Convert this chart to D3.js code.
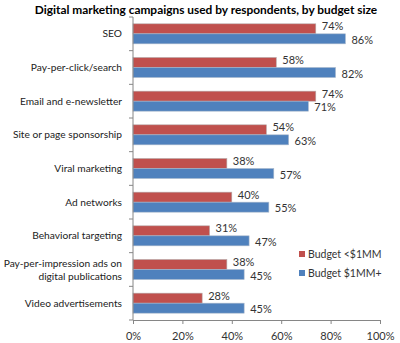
<!DOCTYPE html>
<html><head><meta charset="utf-8">
<script src="https://cdn.jsdelivr.net/npm/d3@7"></script>
<style>body{margin:0;background:#fff}</style>
</head><body><svg id="c" width="400" height="343"></svg>
<script>
const categories = ["SEO","Pay-per-click/search","Email and e-newsletter","Site or page sponsorship","Viral marketing","Ad networks","Behavioral targeting","Pay-per-impression ads on digital publications","Video advertisements"];
const seriesNames = ["Budget <$1MM","Budget $1MM+"];
const small = [74,58,74,54,38,40,31,38,28];
const large = [86,82,71,63,57,55,47,45,45];
const xTicks = [0,20,40,60,80,100];
const colors = ["#C0504D","#4F81BD"];

const svg = d3.select("#c");
const font = "Lato, 'Open Sans', sans-serif";
const m = {left:133, right:20, top:17, bottom:23};
const x = d3.scaleLinear().domain([0,100]).range([m.left, 380]);
const y = d3.scaleBand().domain(categories).range([m.top, 320]);
const inner = d3.scaleBand().domain([0,1]).range([0,20]);
const off = (y.bandwidth()-20)/2;

svg.append("text").attr("x",206).attr("y",14).attr("text-anchor","middle")
  .attr("font-family",font).attr("font-weight","bold").attr("font-size",11.9).attr("fill","#000")
  .text("Digital marketing campaigns used by respondents, by budget size");

const data = categories.map((c,i)=>({c, v:[small[i], large[i]]}));
const g = svg.append("g");
data.forEach(d=>{
  d.v.forEach((v,s)=>{
    const y0 = y(d.c)+off+inner(s);
    g.append("rect").attr("x",x(0)).attr("y",y0).attr("width",x(v)-x(0)).attr("height",inner.bandwidth())
      .attr("fill",colors[s]).attr("stroke", s===0? "#b5a8a8":"#a9b8cc").attr("stroke-width",0.6);
    g.append("text").attr("x",x(v)+6).attr("y",y0+inner.bandwidth()/2+ (s===0?1.5:5))
      .attr("font-family",font).attr("font-size",11).attr("fill","#333").text(v+"%");
  });
});

const ax = svg.append("g").attr("transform",`translate(0,320)`)
  .call(d3.axisBottom(x).tickValues(xTicks).tickFormat(d=>d+"%").tickSizeOuter(0).tickSize(4).tickPadding(8));
ax.select(".domain").attr("stroke","#868686");
ax.selectAll(".tick line").attr("stroke","#868686");
ax.selectAll("text").attr("font-family",font).attr("font-size",11).attr("fill","#333");

svg.append("line").attr("x1",x(0)).attr("x2",x(0)).attr("y1",m.top).attr("y2",320).attr("stroke","#868686");
const bounds = categories.map(c=>y(c)).concat([320]);
svg.selectAll(".yt").data(bounds).enter().append("line")
  .attr("x1",x(0)-4).attr("x2",x(0)).attr("y1",d=>d).attr("y2",d=>d).attr("stroke","#868686");

const wrapMap = {"Pay-per-impression ads on digital publications":["Pay-per-impression ads on","digital publications"]};
categories.forEach(c=>{
  const lines = wrapMap[c] || [c];
  const cy = y(c)+y.bandwidth()/2;
  const t = svg.append("text").attr("text-anchor","end").attr("font-family",font).attr("font-size",10.2).attr("fill","#222");
  lines.forEach((l,i)=>{
    t.append("tspan").attr("x",122).attr("y",cy+3.5+(i-(lines.length-1)/2)*13).text(l);
  });
});

seriesNames.forEach((n,i)=>{
  const ly = 254+i*19;
  svg.append("rect").attr("x",299).attr("y",ly-3).attr("width",6).attr("height",6).attr("fill",colors[i]);
  svg.append("text").attr("x",308).attr("y",ly+4).attr("font-family",font).attr("font-size",10.5).attr("fill","#333").text(n);
});
</script></body></html>
